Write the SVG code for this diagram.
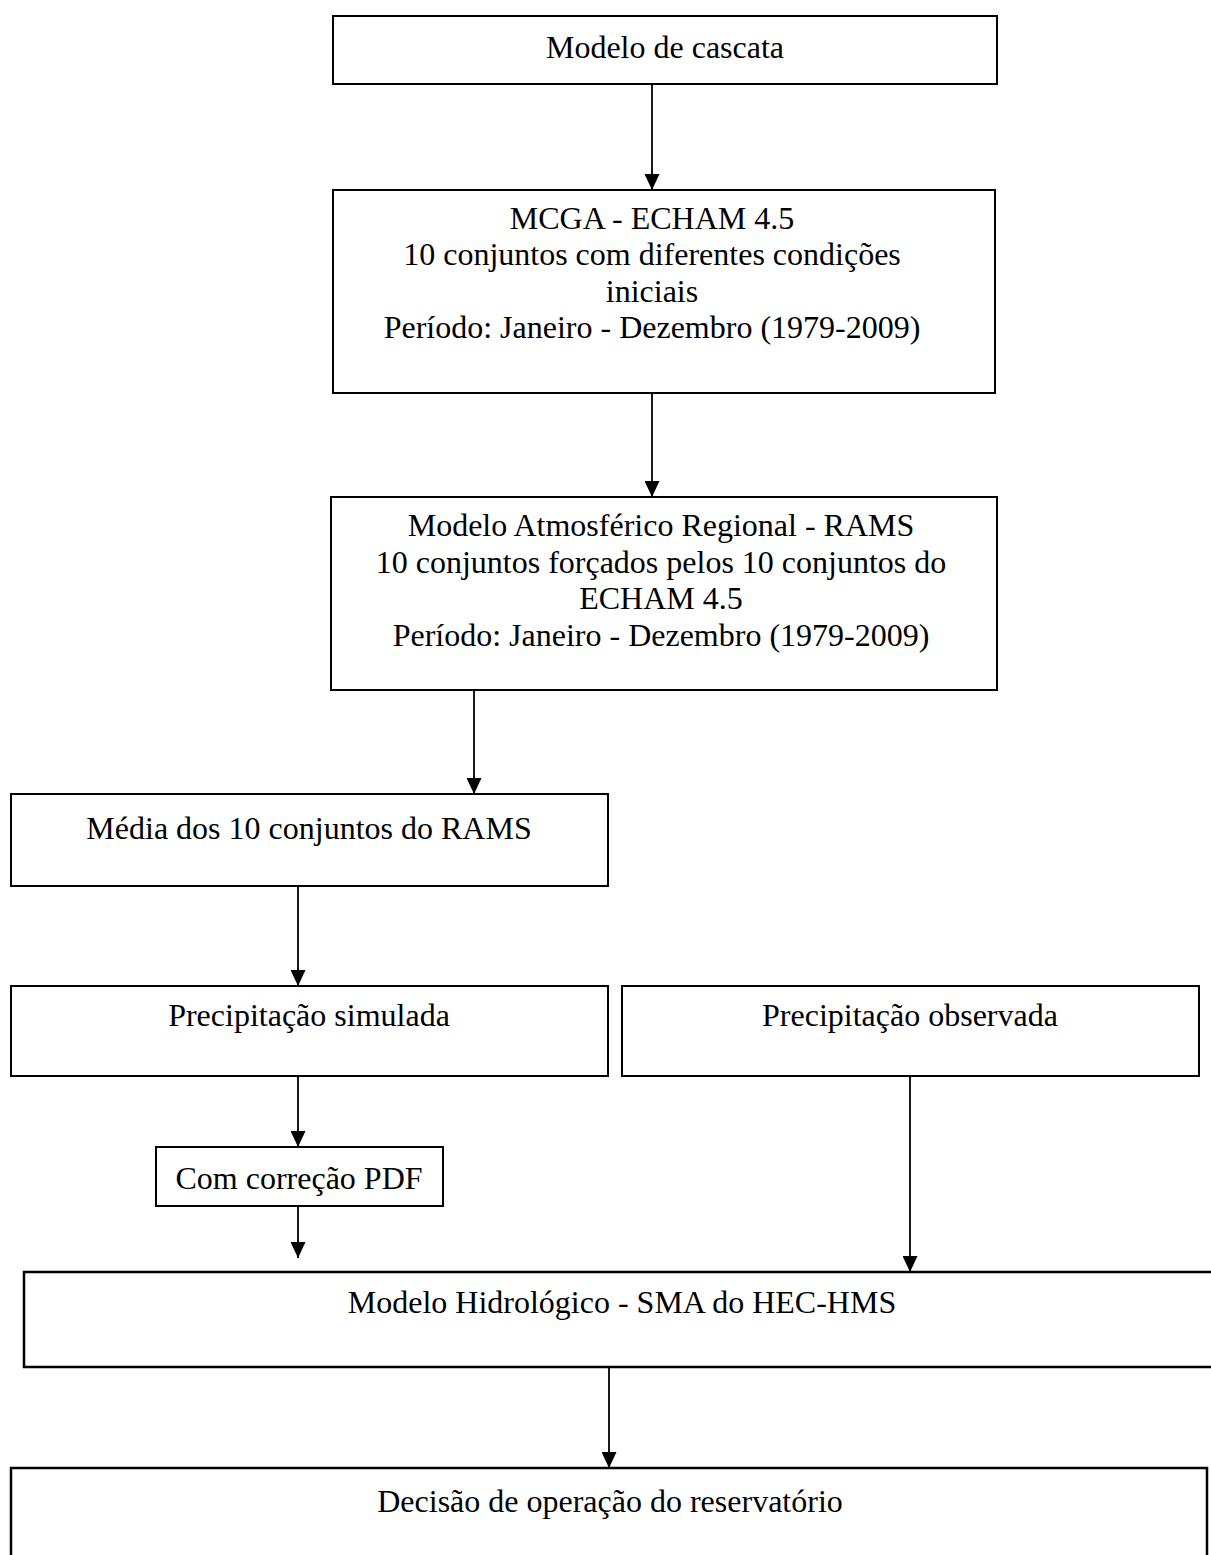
<svg xmlns="http://www.w3.org/2000/svg" width="1211" height="1555" viewBox="0 0 1211 1555">
<style>
.box{fill:#fff;stroke:#000;stroke-width:2}
.t{font-family:"Liberation Serif","Times New Roman",serif;font-size:32px;fill:#000;text-anchor:middle}
.c{stroke:#000;stroke-width:1.8;fill:none;marker-end:url(#ah)}
</style>
<defs>
<marker id="ah" markerUnits="userSpaceOnUse" markerWidth="16" markerHeight="15" refX="16" refY="7.5" orient="auto" viewBox="0 0 16 15">
<path d="M0,0 L16,7.5 L0,15 Z" fill="#000"/>
</marker>
</defs>
<rect width="1211" height="1555" fill="#fff"/>
<g id="connectors">
<line class="c" x1="652" y1="84" x2="652" y2="190"/>
<line class="c" x1="652" y1="393" x2="652" y2="497"/>
<line class="c" x1="474" y1="690" x2="474" y2="794"/>
<line class="c" x1="298" y1="886" x2="298" y2="986"/>
<line class="c" x1="298" y1="1076" x2="298" y2="1147"/>
<line class="c" x1="298" y1="1206" x2="298" y2="1258"/>
<line class="c" x1="910" y1="1076" x2="910" y2="1272"/>
<line class="c" x1="609" y1="1367" x2="609" y2="1468"/>
</g>
<g id="n1"><rect class="box" x="333" y="16" width="664" height="68"/><text class="t" x="665" y="58">Modelo de cascata</text></g>
<g id="n2"><rect class="box" x="333" y="190" width="662" height="203"/>
<text class="t" x="652" y="229">MCGA - ECHAM 4.5</text>
<text class="t" x="652" y="265">10 conjuntos com diferentes condições</text>
<text class="t" x="652" y="302">iniciais</text>
<text class="t" x="652" y="338">Período: Janeiro - Dezembro (1979-2009)</text></g>
<g id="n3"><rect class="box" x="331" y="497" width="666" height="193"/>
<text class="t" x="661" y="536">Modelo Atmosférico Regional - RAMS</text>
<text class="t" x="661" y="573">10 conjuntos forçados pelos 10 conjuntos do</text>
<text class="t" x="661" y="609">ECHAM 4.5</text>
<text class="t" x="661" y="646">Período: Janeiro - Dezembro (1979-2009)</text></g>
<g id="n4"><rect class="box" x="11" y="794" width="597" height="92"/><text class="t" x="309" y="839">Média dos 10 conjuntos do RAMS</text></g>
<g id="n5"><rect class="box" x="11" y="986" width="597" height="90"/><text class="t" x="309" y="1026">Precipitação simulada</text></g>
<g id="n6"><rect class="box" x="622" y="986" width="577" height="90"/><text class="t" x="910" y="1026">Precipitação observada</text></g>
<g id="n7"><rect class="box" x="156" y="1147" width="287" height="59"/><text class="t" x="299" y="1189">Com correção PDF</text></g>
<g id="n8"><rect class="box" x="24" y="1272" width="1200" height="95" style="stroke-width:2.5"/><text class="t" x="622" y="1313">Modelo Hidrológico - SMA do HEC-HMS</text></g>
<g id="n9"><rect class="box" x="11" y="1468" width="1196" height="100" style="stroke-width:2.5"/><text class="t" x="610" y="1512">Decisão de operação do reservatório</text></g>
</svg>
